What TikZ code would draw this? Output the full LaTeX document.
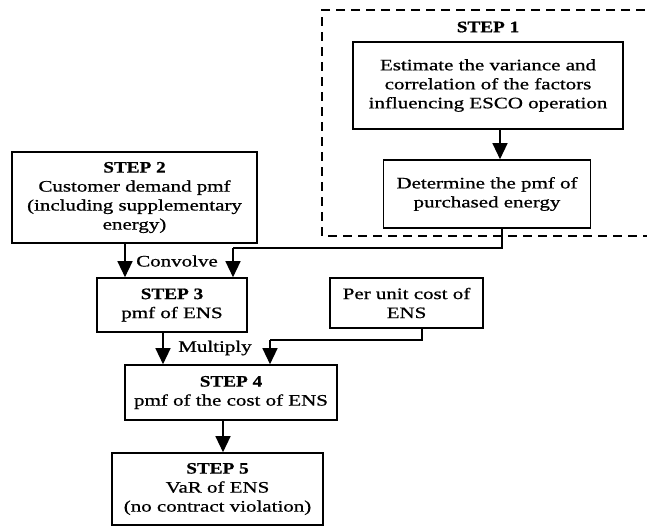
\documentclass[tikz,border=0pt]{standalone}
\usepackage{fontspec}
\setmainfont[FakeStretch=1.31,FakeBold=0.8,BoldFeatures={FakeStretch=1.2,FakeBold=0.8}]{Liberation Serif}
\usetikzlibrary{arrows.meta}
\begin{document}
\begin{tikzpicture}[x=1pt,y=-1pt,
  font=\fontsize{16}{19}\selectfont,
  box/.style={draw,line width=1.6pt,align=center,inner sep=0pt,anchor=center},
  arr/.style={line width=1.3pt,-{Triangle[width=15pt,length=16pt]}},
  link/.style={line width=1.3pt},
  dashbox/.style={line width=1.5pt,dash pattern=on 9pt off 6pt}]
  \useasboundingbox (0,0) rectangle (647,531);
  \fill[white] (0,0) rectangle (647,531);

  % step 1 group
  \draw[dashbox] (660,10) -- (322,10) -- (322,236) -- (660,236);
  \node[font=\fontsize{16}{19}\selectfont\bfseries] (t1) at (488,27) {STEP 1};
  \node[box,minimum width=270pt,minimum height=87pt] (est) at (488,85.5)
    {Estimate the variance and\\correlation of the factors\\influencing ESCO operation};
  \node[box,minimum width=207pt,minimum height=68pt] (det) at (487,194)
    {Determine the pmf of\\purchased energy};

  % main chain
  \node[box,minimum width=245pt,minimum height=91pt] (s2) at (134.5,197.5)
    {\textbf{STEP 2}\\Customer demand pmf\\(including supplementary\\energy)};
  \node[box,minimum width=150pt,minimum height=54pt] (s3) at (172,305)
    {\textbf{STEP 3}\\pmf of ENS};
  \node[box,minimum width=153pt,minimum height=50pt] (cost) at (406.5,303)
    {Per unit cost of\\ENS};
  \node[box,minimum width=212pt,minimum height=55pt] (s4) at (231,392.5)
    {\textbf{STEP 4}\\pmf of the cost of ENS};
  \node[box,minimum width=211pt,minimum height=72pt] (s5) at (217.5,489)
    {\textbf{STEP 5}\\VaR of ENS\\(no contract violation)};

  % connector columns
  \coordinate (c1) at (500,0);
  \coordinate (c2) at (502,248);
  \coordinate (c3) at (233,248);
  \coordinate (c4) at (125,0);
  \coordinate (c5) at (422,340);
  \coordinate (c6) at (270,340);
  \coordinate (c7) at (163,0);
  \coordinate (c8) at (223,0);

  \draw[arr] (est.south -| c1) -- (det.north -| c1);
  \draw[link] (det.south -| c2) -- (c2) -- (c3);
  \draw[arr] (c3) -- (s3.north -| c3);
  \draw[arr] (s2.south -| c4) -- (s3.north -| c4);
  \draw[link] (cost.south -| c5) -- (c5) -- (c6);
  \draw[arr] (c6) -- (s4.north -| c6);
  \draw[arr] (s3.south -| c7) -- (s4.north -| c7);
  \draw[arr] (s4.south -| c8) -- (s5.north -| c8);

  \node (conv) at (177,261) {Convolve};
  \node (mult) at (215,348) {Multiply};
\end{tikzpicture}
\end{document}
